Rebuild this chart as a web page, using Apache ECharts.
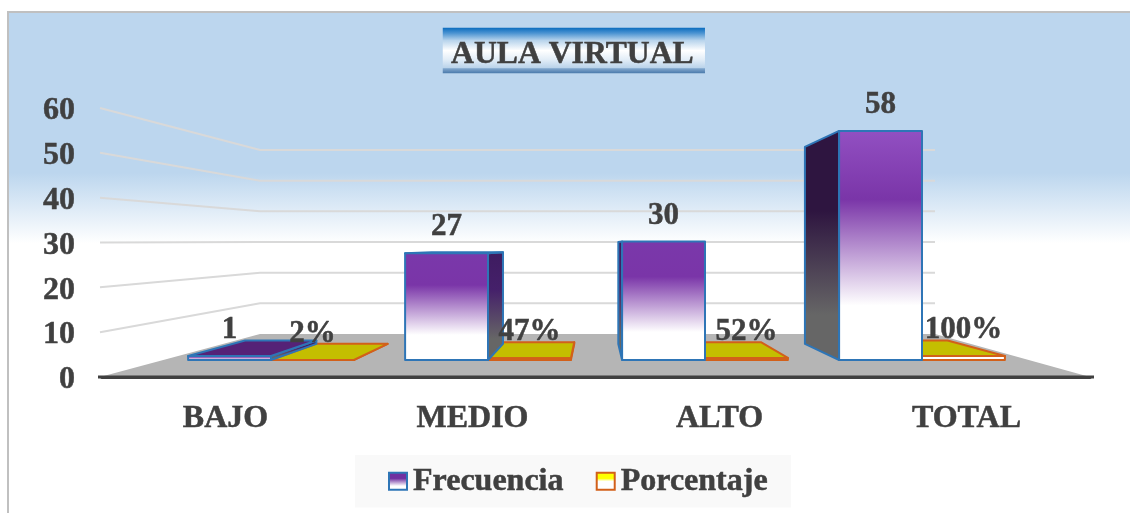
<!DOCTYPE html>
<html><head><meta charset="utf-8">
<style>html,body{margin:0;padding:0;background:#fff;overflow:hidden}#c{width:1130px;height:513px}</style>
<script src="https://cdn.jsdelivr.net/npm/echarts@6/dist/echarts.min.js"></script>
</head><body><div id="c"></div>
<script>
const titleText = 'AULA VIRTUAL';
const categories = ['BAJO', 'MEDIO', 'ALTO', 'TOTAL'];
const frecuencia = [1, 27, 30, 58];
const porcentaje = [0.02, 0.47, 0.52, 1];
const yTicks = [10, 20, 30, 40, 50, 60];

const FONT = '"Liberation Serif","Times New Roman",serif';
const INK = '#404040';
const K = 0.14, VX = 595, VY = 245;           // perspective of the bar plane
const project = p => [p[0] + K * (VX - p[0]), p[1] + K * (VY - p[1])];
const grad = stops => ({type:'linear',x:0,y:0,x2:0,y2:1,colorStops:stops.map(s=>({offset:s[0],color:s[1]}))});
const BAR_RATIO = 0.382;
const heavy = {textBorderColor:INK,textBorderWidth:0.5};

function bar3d(kind) {
  return function (params, api) {
    const i = api.value(0), v = api.value(1);
    const base = api.coord([i, 0]), top = api.coord([i, v]);
    const w = api.size([1, 0])[0] * BAR_RATIO;
    const x0 = kind === 'f' ? base[0] - w : base[0], x1 = x0 + w;
    const y0 = base[1], y1 = top[1];
    const stroke = kind === 'f' ? '#2E75B6' : '#D2601A';
    const lw = 2;
    const ch = [];
    const A = [x0,y1], B = [x1,y1], C = [x1,y0], D = [x0,y0];
    const a = project(A), b = project(B), c = project(C), d = project(D);
    const sideFill = kind === 'f'
      ? grad([[0, i === 3 ? '#2E1540' : '#3E1C60'],[0.35, i === 3 ? '#2E1540' : '#45206A'],[0.8,'#666666'],[1,'#666666']])
      : '#C4BE00';
    const poly = (pts, fill) => ({type:'polygon',shape:{points:pts},style:{fill,stroke,lineWidth:lw,lineJoin:'round'}});
    if (x0 > VX) ch.push(poly([A,a,d,D], sideFill));
    if (x1 < VX) ch.push(poly([B,b,c,C], sideFill));
    if (y1 > VY) ch.push(poly([A,B,b,a], kind === 'f' ? '#552277' : '#C4BE00'));
    const frontFill = kind === 'f'
      ? grad([[0, i === 3 ? '#9250C2' : '#7A38AA'],[0.3,'#7A35A8'],[0.76,'#FFFFFF'],[1,'#FFFFFF']])
      : '#FFFFFF';
    ch.push(poly([A,B,C,D], frontFill));
    return {type:'group',children:ch};
  };
}
function labels(kind) {
  return function (params, api) {
    const i = api.value(0), v = api.value(1);
    const top = api.coord([i, v]);
    const w = api.size([1, 0])[0] * BAR_RATIO;
    const cx = kind === 'f' ? top[0] - w / 2 : top[0] + w / 2;
    const txt = kind === 'f' ? String(v) : Math.round(v * 100) + '%';
    return {type:'text',style:{text:txt,x:cx,y:top[1]-26,fill:INK,stroke:INK,lineWidth:0.5,textAlign:'center',verticalAlign:'middle',textVerticalAlign:'middle',font:'bold 31px '+FONT}};
  };
}
function wall(params, api) {
  const v = api.value(0);
  const fy = api.coord([0, v])[1];
  const by = 334 - (377 - fy) * 0.684;
  return {type:'polyline',shape:{points:[[100,fy],[260,by],[935,by]]},style:{fill:null,stroke:'#D9D9D9',lineWidth:2}};
}

const chart = echarts.init(document.getElementById('c'));
chart.setOption({
  animation:false,
  backgroundColor:'#fff',
  title:{text:titleText,left:443,top:28,padding:[11,11,2,8],
    backgroundColor:grad([[0,'#0A6CBE'],[0.12,'#4C94D2'],[0.28,'#B8D4EC'],[0.5,'#FFFFFF'],[0.7,'#E2EDF7'],[0.88,'#BAD3EA'],[0.9,'#7FA5CC'],[1,'#4A7AAB']]),
    textStyle:{fontFamily:FONT,fontWeight:'bold',fontSize:31.7,color:INK,lineHeight:32,...heavy}},
  legend:{left:355,top:455,padding:[10,23,10,33],itemGap:32,itemWidth:18,itemHeight:17,backgroundColor:'#F9F9F9',
    textStyle:{fontFamily:FONT,fontWeight:'bold',fontSize:32,color:INK,padding:[6,0,0,1],...heavy},
    data:[
      {name:'Frecuencia',icon:'rect',itemStyle:{color:grad([[0,'#7030A0'],[0.35,'#7030A0'],[0.75,'#FFFFFF'],[1,'#FFFFFF']]),borderColor:'#2E75B6',borderWidth:2}},
      {name:'Porcentaje',icon:'rect',itemStyle:{color:grad([[0,'#FFFF00'],[0.35,'#FFFF00'],[0.5,'#FFFFFF'],[1,'#FFFFFF']]),borderColor:'#D2601A',borderWidth:2}}
    ]},
  grid:[
    {left:102,width:988,top:108,height:269},
    {left:162.5,width:868,top:123,height:237}
  ],
  xAxis:[
    {type:'category',gridIndex:0,data:categories,axisTick:{show:false},
     axisLine:{lineStyle:{color:INK,width:3}},
     axisLabel:{fontFamily:FONT,fontWeight:'bold',fontSize:32,color:INK,margin:26,...heavy}},
    {type:'category',gridIndex:1,data:categories,show:false}
  ],
  yAxis:[
    {type:'value',gridIndex:0,min:0,max:60,interval:10,axisLine:{show:false},axisTick:{show:false},splitLine:{show:false},
     axisLabel:{margin:27,formatter:'{a|{value}}',rich:{a:{fontFamily:FONT,fontWeight:'bold',fontSize:32,color:INK,padding:[6,0,0,0],...heavy}}}},
    {type:'value',gridIndex:1,min:0,max:60,interval:10,show:false,splitLine:{show:false}}
  ],
  graphic:[
    {type:'rect',z:-100,shape:{x:8,y:12,width:1140,height:520},
     style:{fill:grad([[0,'#BCD6EE'],[0.31,'#BCD6EE'],[0.445,'#FFFFFF'],[1,'#FFFFFF']]),stroke:'#C0C0C0',lineWidth:2}},
    {type:'polygon',z:-90,shape:{points:[[100,377],[260,334],[935,334],[1090,377]]},style:{fill:'#B5B5B5'}},
    {type:'line',z:-80,shape:{x1:98,y1:377,x2:1094,y2:377},style:{stroke:INK,lineWidth:3}}
  ],
  series:[
    {type:'custom',name:'walls',xAxisIndex:0,yAxisIndex:0,z:1,silent:true,renderItem:wall,data:yTicks.map(v=>[v]),encode:{y:0}},
    {type:'custom',name:'Porcentaje',xAxisIndex:1,yAxisIndex:1,z:2,renderItem:bar3d('p'),data:porcentaje.map((v,i)=>[i,v]),encode:{x:0,y:1},itemStyle:{color:'#C4BE00'}},
    {type:'custom',name:'Frecuencia',xAxisIndex:1,yAxisIndex:1,z:3,renderItem:bar3d('f'),data:frecuencia.map((v,i)=>[i,v]),encode:{x:0,y:1},itemStyle:{color:'#7030A0'}},
    {type:'custom',name:'labelsF',xAxisIndex:1,yAxisIndex:1,z:5,silent:true,renderItem:labels('f'),data:frecuencia.map((v,i)=>[i,v]),encode:{x:0,y:1}},
    {type:'custom',name:'labelsP',xAxisIndex:1,yAxisIndex:1,z:5,silent:true,renderItem:labels('p'),data:porcentaje.map((v,i)=>[i,v]),encode:{x:0,y:1}}
  ]
});
</script></body></html>
